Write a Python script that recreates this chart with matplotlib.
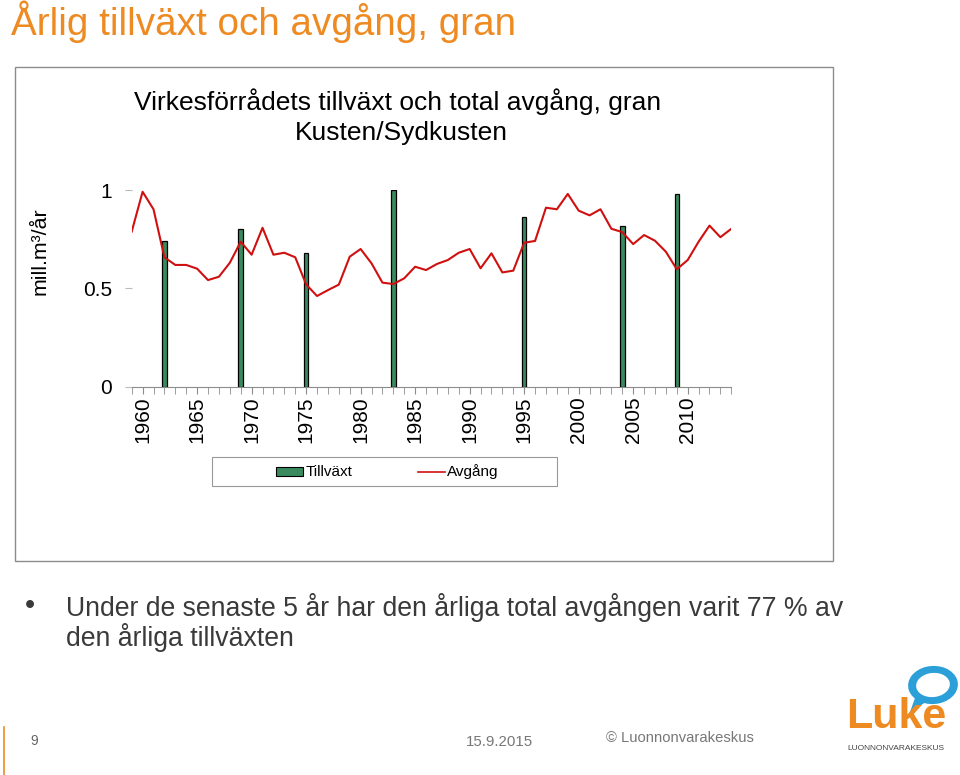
import matplotlib
matplotlib.use("Agg")
import matplotlib.pyplot as plt
from matplotlib.patches import Rectangle, Ellipse, Polygon
from matplotlib.lines import Line2D

# ---- data ----
avgang_years = list(range(1959, 2015))
avgang = [0.788, 0.991, 0.902, 0.658, 0.619, 0.619, 0.600, 0.542, 0.559, 0.630,
          0.737, 0.671, 0.808, 0.671, 0.681, 0.658, 0.520, 0.461, 0.491, 0.519,
          0.661, 0.700, 0.627, 0.529, 0.522, 0.551, 0.610, 0.593, 0.624, 0.644,
          0.681, 0.700, 0.602, 0.678, 0.581, 0.590, 0.732, 0.741, 0.910, 0.902,
          0.980, 0.895, 0.871, 0.902, 0.803, 0.786, 0.725, 0.771, 0.742, 0.686,
          0.597, 0.644, 0.737, 0.819, 0.760, 0.803]
tillvaxt_years = [1962, 1969, 1975, 1983, 1995, 2004, 2009]
tillvaxt = [0.742, 0.800, 0.681, 1.000, 0.864, 0.817, 0.980]
xtick_years = [1960, 1965, 1970, 1975, 1980, 1985, 1990, 1995, 2000, 2005, 2010]
ytick_vals = [0, 0.5, 1]
ytick_labels = ["0", "0.5", "1"]

W, H = 960, 775
fig = plt.figure(figsize=(W / 100, H / 100), dpi=100)
plt.rcParams['font.family'] = ['Liberation Sans', 'DejaVu Sans']

def fx(px):
    return px / W

def fy(py):
    return 1 - py / H

ORANGE = "#EE8A22"

# slide title
fig.text(fx(11), fy(22), "Årlig tillväxt och avgång, gran", color=ORANGE,
         fontsize=27.8, ha="left", va="center")

# chart frame
fig.patches.append(Rectangle((fx(15), fy(561)), fx(833 - 15), (561 - 67) / H,
                             transform=fig.transFigure, fill=False,
                             edgecolor="#8c8c8c", linewidth=1.0))

# chart title
fig.text(fx(398), fy(102), "Virkesförrådets tillväxt och total avgång, gran",
         fontsize=19, ha="center", va="center", color="black")
fig.text(fx(401), fy(133), "Kusten/Sydkusten",
         fontsize=19, ha="center", va="center", color="black")

# axes
ax = fig.add_axes([fx(131.7), fy(386.7), (731.3 - 131.7) / W, (386.7 - 190) / H])
ax.bar(tillvaxt_years, tillvaxt, width=0.42, color="#3A8A5F", edgecolor="black",
       linewidth=0.9, zorder=2)
ax.plot(avgang_years, avgang, color="#D01010", linewidth=1.5, zorder=3)
ax.set_xlim(1959, 2014)
ax.set_ylim(0, 1)
for s in ["top", "right", "left"]:
    ax.spines[s].set_visible(False)
ax.spines["bottom"].set_color("#8c8c8c")
ax.set_xticks(xtick_years)
ax.set_xticklabels([str(y) for y in xtick_years], rotation=90, fontsize=15)
ax.set_xticks(range(1959, 2015), minor=True)
ax.tick_params(axis="x", which="both", length=5, color="#8c8c8c", pad=2)
ax.set_yticks(ytick_vals)
ax.set_yticklabels(ytick_labels, fontsize=15)
ax.tick_params(axis="y", length=5, color="#bbbbbb", pad=9)

fig.text(fx(40), fy(251), "mill.m³/år", rotation=90, fontsize=15.4,
         ha="center", va="center")

# legend box
fig.patches.append(Rectangle((fx(212), fy(486)), fx(557 - 212), (486 - 457) / H,
                             transform=fig.transFigure, fill=False,
                             edgecolor="#999999", linewidth=0.8))
fig.patches.append(Rectangle((fx(276), fy(476)), fx(27), 9 / H,
                             transform=fig.transFigure, facecolor="#3A8A5F",
                             edgecolor="black", linewidth=0.8))
fig.text(fx(306), fy(471.5), "Tillväxt", fontsize=11, ha="left", va="center")
fig.lines.append(Line2D([fx(418), fx(445)], [fy(471.5), fy(471.5)],
                        transform=fig.transFigure, color="#D01010", linewidth=1.2))
fig.text(fx(447), fy(471.5), "Avgång", fontsize=11, ha="left", va="center")

# bullet text
TXT = "#3a3a3a"
fig.text(fx(30), fy(606), "•", fontsize=21, ha="center", va="center", color=TXT)
fig.text(fx(66), fy(607), "Under de senaste 5 år har den årliga total avgången varit 77 % av",
         fontsize=19.2, ha="left", va="center", color=TXT)
fig.text(fx(66), fy(638), "den årliga tillväxten",
         fontsize=19.2, ha="left", va="center", color=TXT)

# footer
fig.lines.append(Line2D([fx(4), fx(4)], [fy(727), fy(775)],
                        transform=fig.transFigure, color=ORANGE, linewidth=1.2))
fig.text(fx(30), fy(741), "9", fontsize=10, ha="left", va="center", color="#666666")
fig.text(fx(466), fy(742), "15.9.2015", fontsize=10.8, ha="left", va="center", color="#777777")
fig.text(fx(606), fy(738), "© Luonnonvarakeskus", fontsize=10.6, ha="left", va="center",
         color="#777777")

# logo
fig.patches.append(Ellipse((fx(933), fy(685)), 50 / W, 38 / H, angle=15,
                           transform=fig.transFigure, facecolor="#2A9FD8",
                           edgecolor="none"))
fig.patches.append(Ellipse((fx(933), fy(685)), 34 / W, 24 / H, angle=15,
                           transform=fig.transFigure, facecolor="white",
                           edgecolor="none"))
fig.patches.append(Polygon([(fx(915), fy(698)), (fx(910), fy(712)), (fx(926), fy(702))],
                           closed=True, transform=fig.transFigure,
                           facecolor="#2A9FD8", edgecolor="none"))
fig.text(fx(896), fy(717), "Luke", fontsize=31, fontweight="bold", ha="center",
         va="center", color=ORANGE)
fig.text(fx(896), fy(748), "LUONNONVARAKESKUS", fontsize=6, ha="center", va="center",
         color="#444444")

fig.savefig("out.png", dpi=100)
